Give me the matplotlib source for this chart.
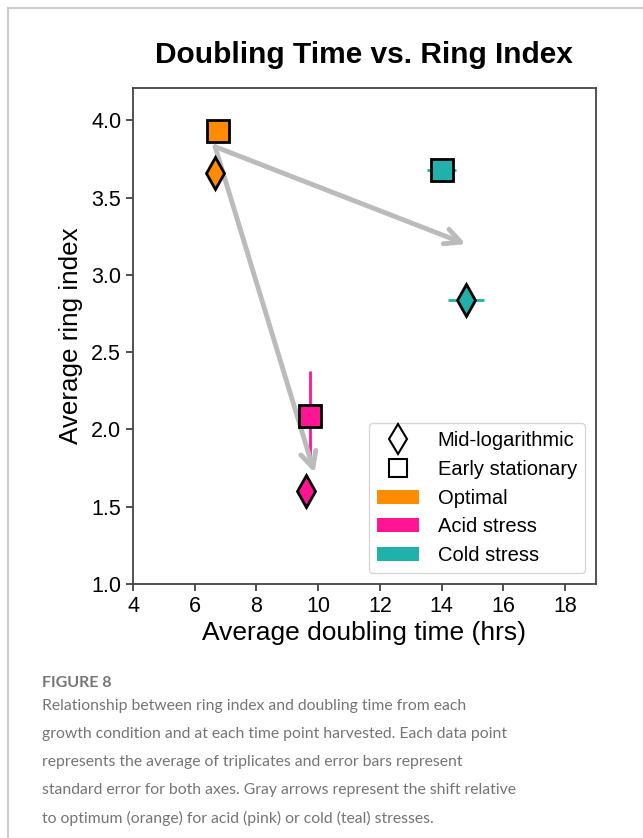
import matplotlib
matplotlib.use("Agg")
import matplotlib.pyplot as plt
from matplotlib.lines import Line2D
from matplotlib.patches import Patch

plt.rcParams["font.family"] = ["Liberation Sans", "DejaVu Sans"]

# Data
conditions = ["Optimal", "Acid stress", "Cold stress"]
colors = ["#FF8C00", "#FF1493", "#20B2AA"]

# Mid-logarithmic (diamonds)
mid_x = [6.66, 9.62, 14.78]
mid_y = [3.66, 1.60, 2.84]
mid_xerr = [0.0, 0.0, 0.58]
mid_yerr = [0.0, 0.0, 0.0]

# Early stationary (squares)
early_x = [6.76, 9.75, 14.0]
early_y = [3.93, 2.09, 3.68]
early_xerr = [0.0, 0.0, 0.48]
early_yerr = [0.0, 0.29, 0.0]

# Arrows (start -> end)
arrow_start = (6.66, 3.83)
arrow_ends = [(9.88, 1.72), (14.78, 3.20)]

x_ticks = [4, 6, 8, 10, 12, 14, 16, 18]
y_ticks = [1.0, 1.5, 2.0, 2.5, 3.0, 3.5, 4.0]

W, H = 643, 838
fig = plt.figure(figsize=(W / 100, H / 100), dpi=100)

# page frame lines
fig.add_artist(Line2D([8 / W, 8 / W], [0, 1 - 8 / H], color="#cccccc", lw=1.5, transform=fig.transFigure))
fig.add_artist(Line2D([8 / W, 1], [1 - 8 / H, 1 - 8 / H], color="#cccccc", lw=1.5, transform=fig.transFigure))

ax = fig.add_axes([133 / W, 1 - 584 / H, (596 - 133) / W, (584 - 88) / H])

for i in range(3):
    ax.errorbar(mid_x[i], mid_y[i], xerr=mid_xerr[i] or None, yerr=mid_yerr[i] or None,
                fmt="none", ecolor=colors[i], elinewidth=2, capsize=0, zorder=2)
    ax.errorbar(early_x[i], early_y[i], xerr=early_xerr[i] or None, yerr=early_yerr[i] or None,
                fmt="none", ecolor=colors[i], elinewidth=2, capsize=0, zorder=2)

for s, e in zip([arrow_start] * 2, arrow_ends):
    ax.annotate("", xy=e, xytext=s,
                arrowprops=dict(arrowstyle="->", color="#bbbbbb", lw=3.5, mutation_scale=28,
                                shrinkA=0, shrinkB=0), zorder=3)

for i in range(3):
    ax.plot(mid_x[i], mid_y[i], marker="d", markersize=16, markerfacecolor=colors[i],
            markeredgecolor="black", markeredgewidth=2, linestyle="none", zorder=4)
    ax.plot(early_x[i], early_y[i], marker="s", markersize=16.5, markerfacecolor=colors[i],
            markeredgecolor="black", markeredgewidth=2, linestyle="none", zorder=4)

ax.set_xlim(4, 19)
ax.set_ylim(1.0, 4.21)
ax.set_xticks(x_ticks)
ax.set_yticks(y_ticks)
ax.set_yticklabels([f"{v:.1f}" for v in y_ticks])
ax.tick_params(labelsize=15.5, width=1.2, length=5, color="#333333")
for sp in ax.spines.values():
    sp.set_color("#444444")
    sp.set_linewidth(1.3)

ax.set_xlabel("Average doubling time (hrs)", fontsize=19, labelpad=3)
ax.set_ylabel("Average ring index", fontsize=18.7, labelpad=6)
fig.text(364 / W, 1 - 55 / H, "Doubling Time vs. Ring Index", ha="center", va="center",
         fontsize=21.5, fontweight="bold")

handles = [
    Line2D([], [], marker="d", markersize=15, markerfacecolor="white", markeredgecolor="black",
           markeredgewidth=1.5, linestyle="none"),
    Line2D([], [], marker="s", markersize=13, markerfacecolor="white", markeredgecolor="black",
           markeredgewidth=1.5, linestyle="none"),
] + [Patch(facecolor=c, edgecolor="none") for c in colors]
labels = ["Mid-logarithmic", "Early stationary"] + conditions
ax.legend(handles, labels, loc="lower right", fontsize=14.5, frameon=True,
          borderpad=0.4, labelspacing=0.48, handlelength=2.1, handletextpad=0.9,
          borderaxespad=0.0, bbox_to_anchor=(0.976, 0.022))

# caption
fig.text(42 / W, 1 - 683 / H, "FIGURE 8", fontsize=11.5, fontweight="bold", color="#777777",
         family="Lato", va="center")
caption = [
    "Relationship between ring index and doubling time from each",
    "growth condition and at each time point harvested. Each data point",
    "represents the average of triplicates and error bars represent",
    "standard error for both axes. Gray arrows represent the shift relative",
    "to optimum (orange) for acid (pink) or cold (teal) stresses.",
]
for k, line in enumerate(caption):
    fig.text(42 / W, 1 - (706 + 28 * k) / H, line, fontsize=11.3, color="#757575",
             family="Lato", va="center")

fig.savefig("out.png", dpi=100)
